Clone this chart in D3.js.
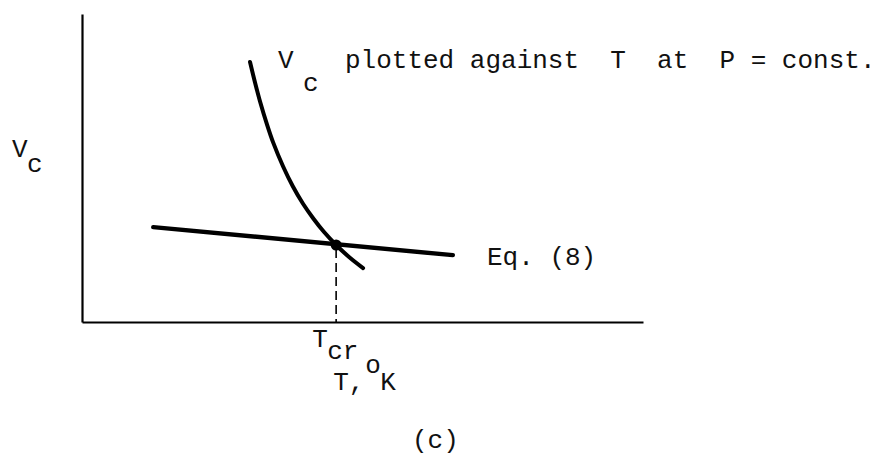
<!DOCTYPE html>
<html>
<head>
<meta charset="utf-8">
<script src="https://cdn.jsdelivr.net/npm/d3@7"></script>
<style>
  html, body { margin: 0; padding: 0; background: #fff; }
  svg { display: block; }
  text { font-family: "Liberation Mono", "DejaVu Sans Mono", monospace; font-size: 26px; fill: #111; white-space: pre; }
</style>
</head>
<body>
<svg id="chart" width="881" height="458"></svg>
<script>
// Schematic: condensation volume V_c against temperature T at constant pressure,
// crossed by the straight line of Eq. (8); the crossing marks T_cr.

// Axis extents (arbitrary units, no ticks on this sketch)
const tDomain = [0, 100];
const vDomain = [0, 100];

// V_c plotted against T at P = const.
const curveT  = [29.95, 30.85, 31.75, 33.0, 34.05, 35.85, 37.6, 39.4, 41.2, 43.15, 45.3, 47.6, 50.1];
const curveVc = [84.4, 77.7, 71.5, 64.0, 58.4, 50.5, 44.0, 38.4, 33.7, 29.2, 25.0, 21.1, 17.5];

// Eq. (8): straight line
const eqT  = [12.7, 66.1];
const eqVc = [30.8, 21.7];

// Intersection point
const crT  = [45.3];
const crVc = [25.0];

const svg = d3.select("#chart");
const x = d3.scaleLinear().domain(tDomain).range([82, 643]);
const y = d3.scaleLinear().domain(vDomain).range([322, 14]);

// Axes without ticks
svg.append("g")
  .attr("transform", `translate(0,${y(0)})`)
  .call(d3.axisBottom(x).tickValues([]).tickSizeOuter(0))
  .call(g => g.select(".domain").attr("stroke", "#000").attr("stroke-width", 2.2));
svg.append("g")
  .attr("transform", `translate(${x(0)},0)`)
  .call(d3.axisLeft(y).tickValues([]).tickSizeOuter(0))
  .call(g => g.select(".domain").attr("stroke", "#000").attr("stroke-width", 2.2));

// V_c curve
svg.append("path")
  .attr("d", d3.line().x(d => x(d[0])).y(d => y(d[1]))
    .curve(d3.curveCatmullRom.alpha(0.5))(d3.zip(curveT, curveVc)))
  .attr("fill", "none")
  .attr("stroke", "#000")
  .attr("stroke-width", 4)
  .attr("stroke-linecap", "round");

// Eq. (8) line
svg.append("path")
  .attr("d", d3.line().x(d => x(d[0])).y(d => y(d[1]))(d3.zip(eqT, eqVc)))
  .attr("fill", "none")
  .attr("stroke", "#000")
  .attr("stroke-width", 4.4)
  .attr("stroke-linecap", "round");

// Dashed drop line to T_cr
svg.append("line")
  .attr("x1", x(crT[0])).attr("x2", x(crT[0]))
  .attr("y1", y(crVc[0]) + 4).attr("y2", y(0))
  .attr("stroke", "#000")
  .attr("stroke-width", 1.6)
  .attr("stroke-dasharray", "9,5");

// Intersection dot
svg.append("circle")
  .attr("cx", x(crT[0])).attr("cy", y(crVc[0]))
  .attr("r", 5.5)
  .attr("fill", "#000");

// Labels
const label = (tx, ty, s) => svg.append("text").attr("x", tx).attr("y", ty).text(s);

// Curve title
label(278, 68, "V");
label(303, 91, "c");
label(345, 68, "plotted against  T  at  P = const.");

// Y-axis label
label(12, 157, "V");
label(27, 172, "c");

// Line label
label(487, 265, "Eq. (8)");

// T_cr under the crossing
const cx = x(crT[0]);
label(cx - 24, 347, "T");
label(cx - 9, 359, "cr");

// X-axis label
label(cx - 3, 390, "T,");
label(cx + 29, 373, "o");
label(cx + 44, 390, "K");

// Panel tag
label(412, 448, "(c)");
</script>
</body>
</html>
